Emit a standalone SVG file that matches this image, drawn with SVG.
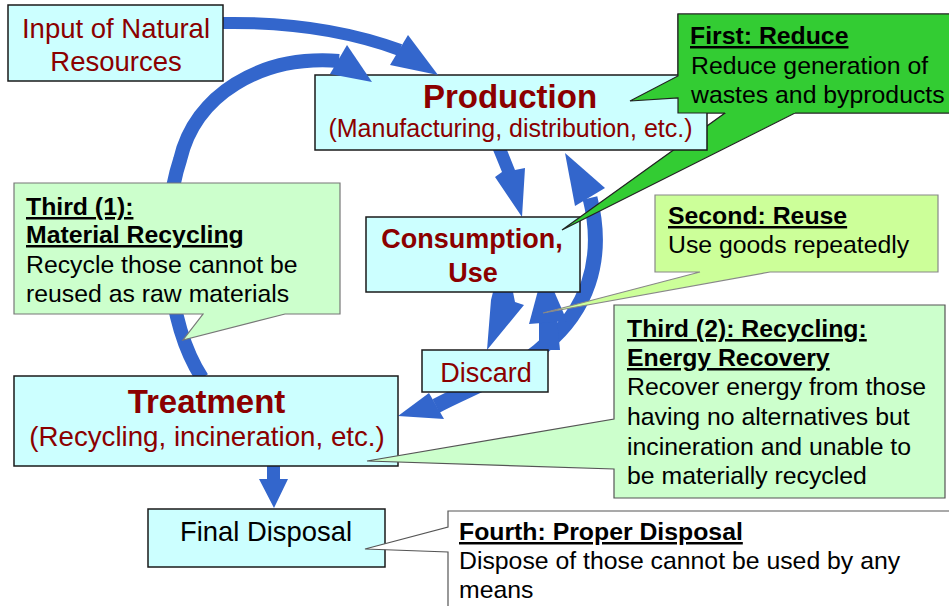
<svg xmlns="http://www.w3.org/2000/svg" width="949" height="606" viewBox="0 0 949 606">
<style>
.node{fill:#ccffff;stroke:#1a1a1a;stroke-width:1.5}
.nt{font-family:"Liberation Sans",Arial,sans-serif;fill:#8b0000;text-anchor:middle}
.b{font-weight:bold}
.ct{font-family:"Liberation Sans",Arial,sans-serif;fill:#000;font-size:24.8px}
.u{font-weight:bold;text-decoration:underline}
.band{fill:none;stroke:#3366cc}
.ah{fill:#3366cc;stroke:none}
</style>
<rect width="949" height="606" fill="#ffffff"/>

<g id="connectors-lower">
  <!-- Discard -> Treatment and Discard -> Production (big right arc) -->
  <path class="band" stroke-width="15" d="M436 406 C470 388 520 370 545 345 C585 312 606 262 590 198"/>
  <polygon class="ah" points="398,416 429,393 444,419"/>
  <polygon class="ah" points="565,153 605,188 575,206"/>
  <!-- Discard -> Consumption (reuse) -->
  <polygon class="ah" points="539,320 557,320 560,350 539,350"/>
  <polygon class="ah" points="529,324 567,321 544,268"/>
  <!-- Production -> Consumption -->
  <polygon class="ah" points="493,150 507,150 515,170 525,168 522,217 495,177 502,172"/>
  <!-- Consumption -> Discard -->
  <polygon class="ah" points="493,292 513,292 515,302 524,305 487,350 491,300"/>
</g>

<g id="node-consumption">
  <rect class="node" x="366" y="217" width="214" height="75"/>
  <text class="nt b" x="472" y="248" font-size="27">Consumption,</text>
  <text class="nt b" x="473" y="282" font-size="27">Use</text>
</g>

<g id="node-discard">
  <rect class="node" x="422" y="350" width="126" height="42"/>
  <text class="nt" x="486" y="382" font-size="27">Discard</text>
</g>

<g id="callout-first-pointer">
  <path d="M678 14 H960 V113 H795 L562 230 L725 113 H678 V98 L630 101 L678 76 Z" fill="#33cc33" stroke="#222" stroke-width="1.2"/>
</g>

<g id="node-production">
  <rect class="node" x="315" y="75" width="392" height="75"/>
  <text class="nt b" x="510" y="108" font-size="33">Production</text>
  <text class="nt" x="510.5" y="137" font-size="25">(Manufacturing, distribution, etc.)</text>
</g>

<g id="callout-first">
  <path d="M678 14 H960 V113 H678 V98 L630 101 L678 76 Z" fill="#33cc33" stroke="none"/>
  <path d="M725 113 H678 V98 L630 101 L678 76 V14 H960 M795 113 H960" fill="none" stroke="#222" stroke-width="1.2"/>
  <text class="ct u" x="690" y="44">First: Reduce</text>
  <text class="ct" x="691" y="74">Reduce generation of</text>
  <text class="ct" x="691" y="103">wastes and byproducts</text>
</g>

<g id="connectors-upper">
  <!-- Input -> Production -->
  <path class="band" stroke-width="12" d="M222 23 C280 22 340 28 400 50"/>
  <polygon class="ah" points="408,35 438,75 390,65"/>
  <!-- Treatment -> Production (material recycling) -->
  <path class="band" stroke-width="14" d="M202 378 C165 320 160 220 180 160 C195 95 260 55 339 61"/>
  <polygon class="ah" points="347,45 372,82 330,74"/>
  <!-- Treatment -> Final Disposal -->
  <polygon class="ah" points="267,466 280,466 280,479 288,479 274,508 259,479 267,479"/>
</g>

<g id="node-input">
  <rect class="node" x="8" y="5" width="215" height="76"/>
  <text class="nt" x="116" y="38" font-size="27.5">Input of Natural</text>
  <text class="nt" x="116" y="71" font-size="27.5">Resources</text>
</g>

<g id="callout-third1">
  <path d="M14 183 H340 V314 H285 L183 340 L203 314 H14 Z" fill="#ccffcc" stroke="#777" stroke-width="1.2"/>
  <text class="ct u" x="26" y="215">Third (1):</text>
  <text class="ct u" x="26" y="243">Material Recycling</text>
  <text class="ct" x="26" y="273">Recycle those cannot be</text>
  <text class="ct" x="26" y="302">reused as raw materials</text>
</g>

<g id="node-treatment">
  <rect class="node" x="14" y="376" width="384" height="90"/>
  <text class="nt b" x="206.5" y="413" font-size="33">Treatment</text>
  <text class="nt" x="207" y="446" font-size="27.7">(Recycling, incineration, etc.)</text>
</g>

<g id="node-final">
  <rect class="node" x="148" y="509" width="237" height="58"/>
  <text class="nt" x="266" y="541" font-size="27.4" fill="#000" style="fill:#000">Final Disposal</text>
</g>

<g id="callout-second">
  <path d="M655 195 H938 V272 H770 L543 313 L700 272 H655 Z" fill="#ccff99" stroke="#888" stroke-width="1.2"/>
  <text class="ct u" x="668" y="224">Second: Reuse</text>
  <text class="ct" x="668" y="253">Use goods repeatedly</text>
</g>

<g id="callout-third2">
  <path d="M614 305 H945 V498 H614 V469 L367 461 L614 419 Z" fill="#ccffcc" stroke="#555" stroke-width="1.2"/>
  <text class="ct u" x="627" y="337">Third (2): Recycling:</text>
  <text class="ct u" x="627" y="366">Energy Recovery</text>
  <text class="ct" x="627" y="395">Recover energy from those</text>
  <text class="ct" x="627" y="425">having no alternatives but</text>
  <text class="ct" x="627" y="455">incineration and unable to</text>
  <text class="ct" x="627" y="484">be materially recycled</text>
</g>

<g id="callout-fourth">
  <path d="M448 511 H960 V620 H448 V552 L365 549 L448 527 Z" fill="#ffffff" stroke="#555" stroke-width="1.2"/>
  <text class="ct u" x="459" y="540">Fourth: Proper Disposal</text>
  <text class="ct" x="459" y="569">Dispose of those cannot be used by any</text>
  <text class="ct" x="459" y="598">means</text>
</g>
</svg>
